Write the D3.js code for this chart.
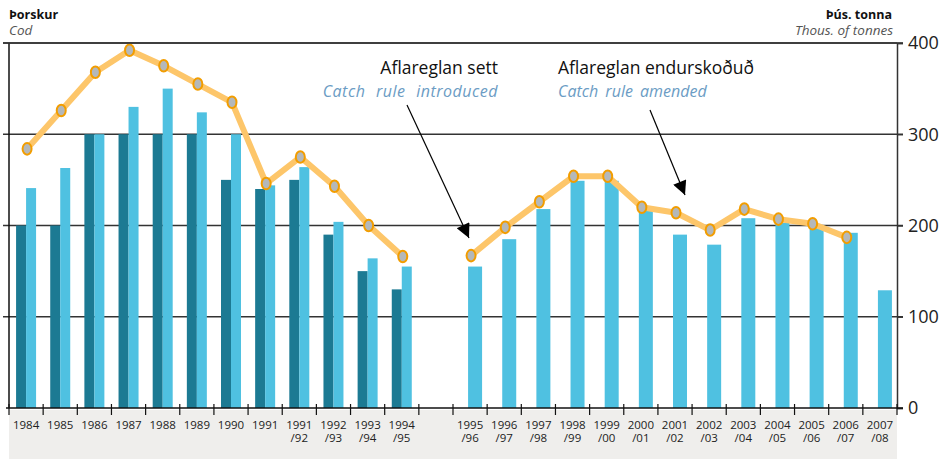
<!DOCTYPE html>
<html>
<head>
<meta charset="utf-8">
<style>
  body { margin: 0; background: #fff; }
  svg { display: block; font-family: "Open Sans", sans-serif; }
</style>
</head>
<body>
<svg width="941" height="459"></svg>
<script src="https://cdnjs.cloudflare.com/ajax/libs/d3/7.8.5/d3.min.js"></script>
<script>
// categories ("" = empty gap between the two periods)
const categories = ["1984", "1985", "1986", "1987", "1988", "1989", "1990", "1991",
  "1991/92", "1992/93", "1993/94", "1994/95", "",
  "1995/96", "1996/97", "1997/98", "1998/99", "1999/00", "2000/01", "2001/02",
  "2002/03", "2003/04", "2004/05", "2005/06", "2006/07", "2007/08"];

// dark bars (first period only)
const tac = [200, 200, 300, 300, 300, 300, 250, 240, 250, 190, 150, 130, null,
  null, null, null, null, null, null, null, null, null, null, null, null, null];

// light bars
const landed = [241, 263, 300, 330, 350, 324, 300, 244, 264, 204, 164, 155, null,
  155, 185, 218, 249, 249, 218, 190, 179, 208, 203, 197, 192, 129];

// orange line
const advice = [284, 326, 368, 392, 375, 355, 335, 246, 275, 243, 200, 166, null,
  167, 198, 226, 254, 254, 220, 214, 195, 218, 207, 202, 187, null];

const yTicks = [0, 100, 200, 300, 400];

const svg = d3.select("svg");
const plotL = 9, plotR = 897, plotT = 43, plotB = 408;

const x = d3.scaleBand()
  .domain(d3.range(categories.length))
  .range([plotL, plotR]);

const y = d3.scaleLinear()
  .domain([0, 400])
  .range([plotB, plotT]);

const cx = i => x(i) + x.bandwidth() / 2;

// grey label strip
svg.append("rect")
  .attr("x", plotL).attr("y", plotB + 2)
  .attr("width", plotR - plotL).attr("height", 459 - plotB - 2)
  .attr("fill", "#efeeec");

// gridlines
svg.append("g")
  .selectAll("line")
  .data(yTicks.filter(d => d > 0))
  .join("line")
  .attr("x1", 3).attr("x2", plotR + 6)
  .attr("y1", d => y(d)).attr("y2", d => y(d))
  .attr("stroke", "#333")
  .attr("stroke-width", 1.4);

// bars
const bars = svg.append("g");
categories.forEach((c, i) => {
  const c0 = cx(i);
  if (tac[i] != null) {
    bars.append("rect")
      .attr("x", c0 - 10).attr("width", 10)
      .attr("y", y(tac[i])).attr("height", plotB - y(tac[i]))
      .attr("fill", "#1c7a93");
    bars.append("rect")
      .attr("x", c0).attr("width", 10)
      .attr("y", y(landed[i])).attr("height", plotB - y(landed[i]))
      .attr("fill", "#4fc1e1");
  } else if (landed[i] != null) {
    bars.append("rect")
      .attr("x", c0 - 2).attr("width", 14)
      .attr("y", y(landed[i])).attr("height", plotB - y(landed[i]))
      .attr("fill", "#4fc1e1");
  }
});

// left axis line
svg.append("line")
  .attr("x1", plotL).attr("x2", plotL)
  .attr("y1", plotT).attr("y2", plotB)
  .attr("stroke", "#111").attr("stroke-width", 1.5);

// right axis
const yAxis = svg.append("g")
  .attr("transform", `translate(${plotR},0)`)
  .call(d3.axisRight(y).tickValues(yTicks).tickSize(6).tickPadding(5));
yAxis.select(".domain").attr("stroke", "#333").attr("stroke-width", 1.5);
yAxis.selectAll(".tick line").attr("stroke", "#333").attr("stroke-width", 1.4);
yAxis.selectAll("text")
  .attr("font-size", 18)
  .attr("fill", "#222")
  .attr("font-family", "Open Sans, sans-serif");

// bottom axis
const ticksX = d3.range(categories.length + 1).map(i => plotL + i * x.bandwidth());
svg.append("line")
  .attr("x1", plotL - 3).attr("x2", plotR + 6)
  .attr("y1", plotB).attr("y2", plotB)
  .attr("stroke", "#111").attr("stroke-width", 1.5);
svg.append("g")
  .selectAll("line")
  .data(ticksX)
  .join("line")
  .attr("x1", d => d).attr("x2", d => d)
  .attr("y1", plotB - 4).attr("y2", plotB + 7)
  .attr("stroke", "#111").attr("stroke-width", 1.2);

// x labels
const lab = svg.append("g")
  .attr("font-size", 11.5)
  .attr("fill", "#222")
  .attr("text-anchor", "middle");
categories.forEach((c, i) => {
  if (!c) return;
  const parts = c.split("/");
  lab.append("text").attr("x", cx(i)).attr("y", 428.5).text(parts[0]);
  if (parts[1]) lab.append("text").attr("x", cx(i)).attr("y", 441.5).text("/" + parts[1]);
});

// line
const pts = advice.map((v, i) => ({ i, v }));
const line = d3.line()
  .defined(d => d.v != null)
  .x(d => cx(d.i) + 1)
  .y(d => y(d.v));
svg.append("path")
  .datum(pts)
  .attr("d", line)
  .attr("fill", "none")
  .attr("stroke", "#fdc66a")
  .attr("stroke-width", 6)
  .attr("stroke-linejoin", "round");
svg.append("g")
  .selectAll("ellipse")
  .data(pts.filter(d => d.v != null))
  .join("ellipse")
  .attr("cx", d => cx(d.i) + 1)
  .attr("cy", d => y(d.v))
  .attr("rx", 4.5).attr("ry", 5.8)
  .attr("fill", "#b4b8ba")
  .attr("stroke", "#f29d00")
  .attr("stroke-width", 2);

// top border
svg.append("line")
  .attr("x1", 3).attr("x2", plotR)
  .attr("y1", plotT).attr("y2", plotT)
  .attr("stroke", "#333").attr("stroke-width", 1.5);

// titles
svg.append("text").attr("x", plotL).attr("y", 19)
  .attr("font-size", 12.5).attr("font-weight", "bold").attr("fill", "#111")
  .text("Þorskur");
svg.append("text").attr("x", plotL).attr("y", 35)
  .attr("font-size", 13.5).attr("font-style", "italic").attr("fill", "#555")
  .text("Cod");
svg.append("text").attr("x", 892).attr("y", 19).attr("text-anchor", "end")
  .attr("font-size", 12.5).attr("font-weight", "bold").attr("fill", "#111")
  .text("Þús. tonna");
svg.append("text").attr("x", 893).attr("y", 35).attr("text-anchor", "end")
  .attr("font-size", 13.5).attr("font-style", "italic").attr("fill", "#555")
  .text("Thous. of tonnes");

// annotations
const notes = [
  { is: "Aflareglan sett", en: "Catch rule introduced", tx: 498, anchor: "end",
    ls: 0.5, ws: 6, from: [407, 105], to: [469, 238] },
  { is: "Aflareglan endurskoðuð", en: "Catch rule amended", tx: 558, anchor: "start",
    ls: 0, ws: 3, from: [650, 110], to: [685, 195] }
];
svg.append("defs").append("marker")
  .attr("id", "head")
  .attr("viewBox", "0 0 10 10")
  .attr("refX", 10).attr("refY", 5)
  .attr("markerUnits", "userSpaceOnUse")
  .attr("markerWidth", 16).attr("markerHeight", 14)
  .attr("orient", "auto")
  .append("path")
  .attr("d", "M0,0 L10,5 L0,10 Z")
  .attr("fill", "#000");

notes.forEach(n => {
  svg.append("text").attr("x", n.tx).attr("y", 74)
    .attr("text-anchor", n.anchor)
    .attr("font-size", 17.5).attr("fill", "#111")
    .text(n.is);
  svg.append("text").attr("x", n.tx).attr("y", 97)
    .attr("text-anchor", n.anchor)
    .attr("font-size", 16).attr("font-style", "italic").attr("fill", "#6b9cc4")
    .attr("letter-spacing", n.ls)
    .attr("word-spacing", n.ws)
    .text(n.en);
  svg.append("line")
    .attr("x1", n.from[0]).attr("y1", n.from[1])
    .attr("x2", n.to[0]).attr("y2", n.to[1])
    .attr("stroke", "#000").attr("stroke-width", 1.2)
    .attr("marker-end", "url(#head)");
});
</script>
</body>
</html>
